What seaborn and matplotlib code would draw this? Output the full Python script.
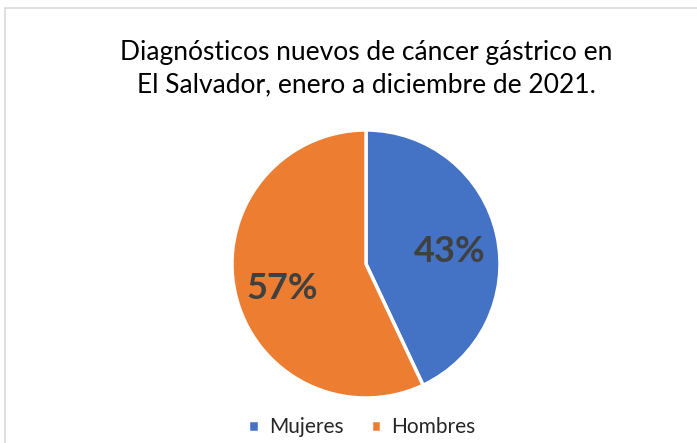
import matplotlib
matplotlib.use("Agg")
import matplotlib.pyplot as plt
import matplotlib.transforms as mtrans
from matplotlib.patches import Rectangle
import seaborn as sns

categories = ["Mujeres", "Hombres"]
values = [43, 57]
colors = ["#4472C4", "#ED7D31"]
title = "Diagnósticos nuevos de cáncer gástrico en\nEl Salvador, enero a diciembre de 2021."

sns.set_theme(style="white")
plt.rcParams["font.family"] = ["Lato", "DejaVu Sans"]

W, H = 697, 443
fig = plt.figure(figsize=(W / 100, H / 100), dpi=100)
fig.patch.set_facecolor("white")

# chart border
fig.patches.append(Rectangle((5 / W, -0.01), (W - 4) / W, (H - 8) / H + 0.01,
                             transform=fig.transFigure, fill=False,
                             edgecolor="#D9D9D9", linewidth=1.2))

r = 134
cx, cy = 366, 264
ax = fig.add_axes([(cx - r) / W, (H - cy - r) / H, 2 * r / W, 2 * r / H])
wedges, texts, autotexts = ax.pie(
    values, colors=colors, startangle=90, counterclock=False,
    autopct=lambda p: f"{p:.0f}%", pctdistance=0.64,
    wedgeprops=dict(edgecolor="white", linewidth=2.5),
    textprops=dict(fontsize=26, fontweight="bold", color="#404040"))
for t in autotexts:
    t.set_transform(t.get_transform() + mtrans.ScaledTranslation(0, -0.06, fig.dpi_scale_trans))
ax.set_xlim(-1.0, 1.0)
ax.set_ylim(-1.0, 1.0)
ax.set_aspect("equal")
ax.axis("off")

fig.text(cx / W, 1 - 69 / H, title, ha="center", va="center",
         fontsize=19, color="#000000", linespacing=1.38)

fig.legend(wedges, categories, loc="center", bbox_to_anchor=(362 / W, 1 - 427 / H),
           ncol=2, frameon=False, fontsize=15, handlelength=0.5, handleheight=0.5,
           handletextpad=0.5, columnspacing=1.3)

fig.savefig("out.png", dpi=100, facecolor="white")
